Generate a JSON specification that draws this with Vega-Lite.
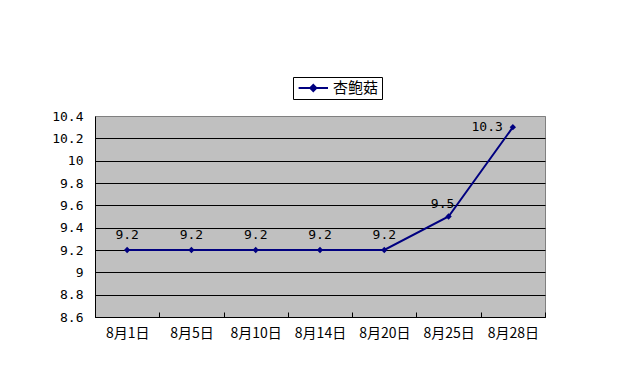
{
  "$schema": "https://vega.github.io/schema/vega-lite/v6.json",
  "width": 450,
  "height": 201,
  "autosize": {"type": "none"},
  "padding": {"left": 95, "top": 116, "right": 90, "bottom": 66},
  "background": "white",
  "config": {
    "view": {"fill": "#C0C0C0", "stroke": "#808080", "strokeWidth": 1},
    "axis": {"labelColor": "black", "domainColor": "black", "tickColor": "black", "title": null}
  },
  "data": {
    "values": [
      {"date": "8月1日", "price": 9.2, "series": "杏鲍菇"},
      {"date": "8月5日", "price": 9.2, "series": "杏鲍菇"},
      {"date": "8月10日", "price": 9.2, "series": "杏鲍菇"},
      {"date": "8月14日", "price": 9.2, "series": "杏鲍菇"},
      {"date": "8月20日", "price": 9.2, "series": "杏鲍菇"},
      {"date": "8月25日", "price": 9.5, "series": "杏鲍菇"},
      {"date": "8月28日", "price": 10.3, "series": "杏鲍菇"}
    ]
  },
  "encoding": {
    "x": {
      "field": "date", "type": "nominal", "sort": null,
      "scale": {"type": "band", "paddingInner": 0, "paddingOuter": 0},
      "axis": {
        "labelAngle": 0, "labelFont": "Noto Sans CJK SC", "labelFontSize": 14,
        "tickBand": "extent", "tickSize": -5, "labelPadding": 14, "grid": false, "title": null
      }
    },
    "y": {
      "field": "price", "type": "quantitative",
      "scale": {"domain": [8.6, 10.4], "nice": false, "zero": false},
      "axis": {
        "values": [8.6, 8.8, 9, 9.2, 9.4, 9.6, 9.8, 10, 10.2, 10.4],
        "format": ".1~f", "labelFont": "DejaVu Sans Mono", "labelFontSize": 13,
        "ticks": false, "labelPadding": 12, "grid": true,
        "gridColor": {"condition": {"test": "datum.value >= 10.39", "value": "#808080"}, "value": "black"},
        "gridOpacity": 1, "title": null
      }
    }
  },
  "layer": [
    {
      "mark": {"type": "line", "color": "#000080", "strokeWidth": 2},
      "encoding": {}
    },
    {
      "mark": {"type": "point", "shape": "diamond", "filled": true, "size": 40, "opacity": 1},
      "encoding": {
        "color": {
          "field": "series", "type": "nominal",
          "scale": {"domain": ["杏鲍菇"], "range": ["#000080"]},
          "legend": {
            "title": null, "orient": "none", "legendX": 198, "legendY": -39,
            "strokeColor": "black", "padding": 3,
            "symbolType": "M-3.2,0L1,0M-1.1,-0.43L-0.67,0L-1.1,0.43L-1.53,0Z",
            "symbolSize": 196, "symbolOffset": 17, "symbolStrokeWidth": 2, "symbolStrokeColor": "#000080", "symbolFillColor": "#000080",
            "labelFont": "Noto Sans CJK SC", "labelFontSize": 15, "labelColor": "black", "labelOffset": 4
          }
        }
      }
    },
    {
      "transform": [{"filter": "datum.price < 9.4"}],
      "mark": {"type": "text", "dy": -15, "font": "DejaVu Sans Mono", "fontSize": 13, "color": "black"},
      "encoding": {"text": {"field": "price", "type": "quantitative", "format": ".1f"}}
    },
    {
      "transform": [{"filter": "datum.price == 9.5"}],
      "mark": {"type": "text", "dy": -13, "dx": -6, "font": "DejaVu Sans Mono", "fontSize": 13, "color": "black"},
      "encoding": {"text": {"field": "price", "type": "quantitative", "format": ".1f"}}
    },
    {
      "transform": [{"filter": "datum.price > 10"}],
      "mark": {"type": "text", "align": "right", "dx": -10, "dy": 0, "font": "DejaVu Sans Mono", "fontSize": 13, "color": "black"},
      "encoding": {"text": {"field": "price", "type": "quantitative", "format": ".1f"}}
    }
  ]
}
